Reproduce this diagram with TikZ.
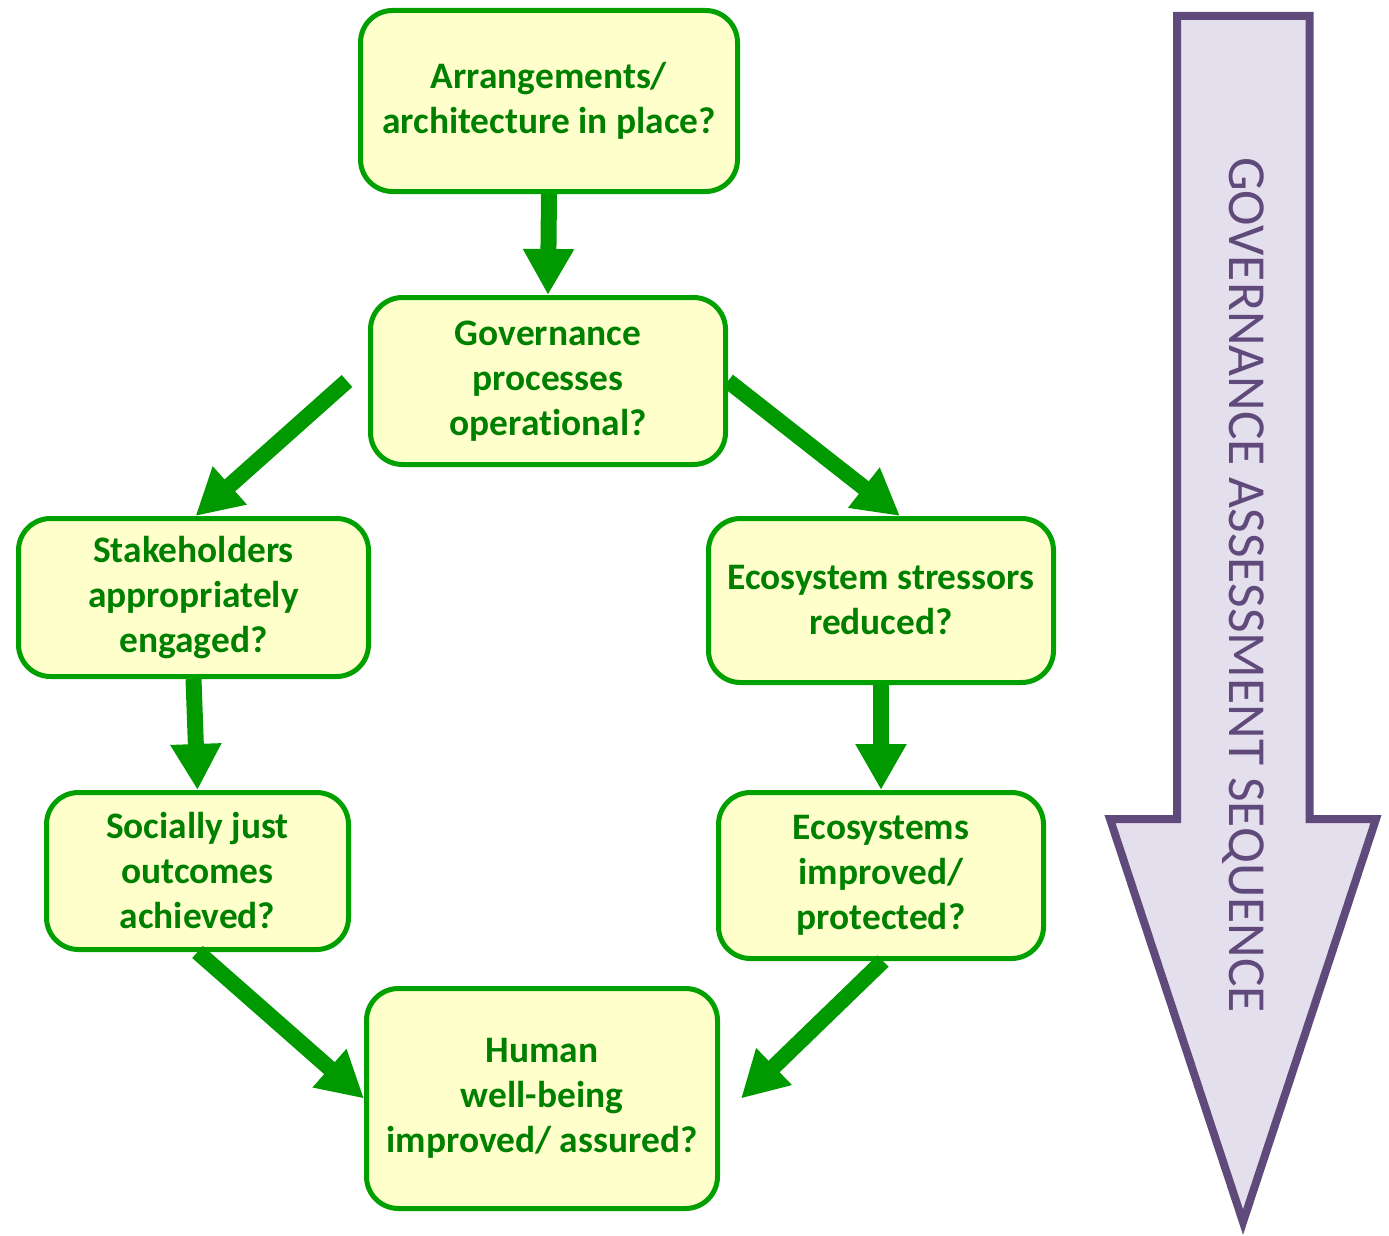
\documentclass[tikz,border=0pt]{standalone}
\usepackage{fontspec}
\setmainfont{Carlito}[Ligatures={NoCommon}]
\usetikzlibrary{arrows.meta}
\definecolor{boxborder}{RGB}{0,160,0}
\definecolor{boxfill}{RGB}{255,255,204}
\definecolor{boxtext}{RGB}{0,128,0}
\definecolor{arrowgreen}{RGB}{0,153,0}
\definecolor{seqline}{RGB}{96,74,123}
\definecolor{seqfill}{RGB}{228,223,236}
\tikzset{
  qbox/.style={draw=boxborder, fill=boxfill, line width=5pt, rounded corners=32pt,
    text=boxtext, align=center, inner sep=0pt,
    font=\fontsize{37.4}{45}\selectfont\bfseries},
  garrow/.style={draw=arrowgreen, line width=16pt,
    -{Triangle[length=46pt,width=48pt]}},
}
\begin{document}
\begin{tikzpicture}[x=1pt,y=-1pt]
\useasboundingbox (0,0) rectangle (1389,1236);
% purple sequence arrow
\draw[draw=seqline, fill=seqfill, line width=8pt]
  (1177,16) -- (1309.5,16) -- (1309.5,819) -- (1376,819) -- (1243,1222)
  -- (1110,819) -- (1177,819) -- cycle;
\node[rotate=-90, text=seqline, font=\fontsize{53.5}{60}\selectfont, inner sep=0pt]
  (seq) at (1243,585) {GOVERNANCE ASSESSMENT SEQUENCE};
% boxes
\node[qbox, minimum width=377pt, minimum height=181pt] (a) at (549,101)
  {Arrangements/\\architecture in place?};
\node[qbox, minimum width=355pt, minimum height=167pt] (g) at (548,381)
  {Governance\\processes\\operational?};
\node[qbox, minimum width=350pt, minimum height=158pt] (s) at (193.5,597.5)
  {Stakeholders\\appropriately\\engaged?};
\node[qbox, minimum width=345pt, minimum height=164pt] (e) at (881,600.5)
  {Ecosystem stressors\\reduced?};
\node[qbox, minimum width=302pt, minimum height=157pt] (soc) at (197.5,871)
  {Socially just\\outcomes\\achieved?};
\node[qbox, minimum width=325pt, minimum height=166pt] (ei) at (881,875.5)
  {Ecosystems\\improved/\\protected?};
\node[qbox, minimum width=351pt, minimum height=220pt] (h) at (542,1098.5)
  {Human\\well-being\\improved/ assured?};
% connectors
\draw[garrow] (a.south) -- (g.north);
\draw[garrow] ([xshift=-21pt]g.west) -- ([xshift=2pt]s.north);
\draw[garrow] ([xshift=0pt]g.east) -- ([xshift=19pt]e.north);
\draw[garrow] (s.south) -- (soc.north);
\draw[garrow] (e.south) -- (ei.north);
\draw[garrow] (soc.south) -- (h.west);
\draw[garrow] ([xshift=2pt]ei.south) -- ([xshift=21pt]h.east);
\end{tikzpicture}
\end{document}
